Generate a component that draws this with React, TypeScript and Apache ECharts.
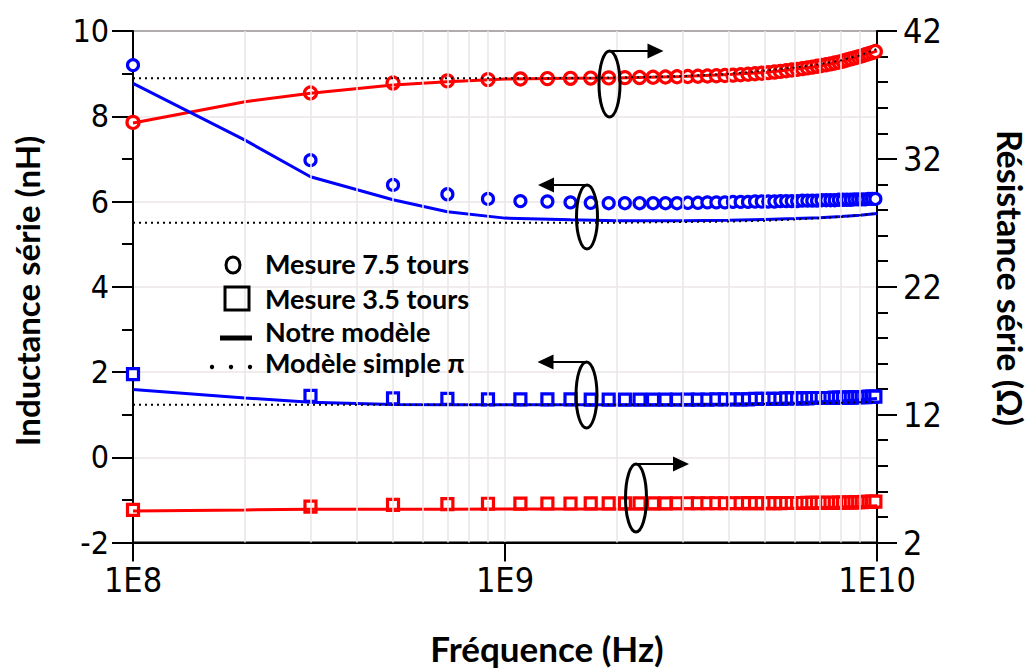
import React, { useEffect, useRef } from "react";
import * as echarts from "echarts";

// Measurement frequencies (GHz)
const freqGHz = [0.1, 0.3, 0.5, 0.7, 0.9, 1.1, 1.3, 1.5, 1.7, 1.9, 2.1, 2.3, 2.5, 2.7, 2.9, 3.1, 3.3, 3.5, 3.7, 3.9, 4.1, 4.3, 4.5, 4.7, 4.9, 5.1, 5.3, 5.5, 5.7, 5.9, 6.1, 6.3, 6.5, 6.7, 6.9, 7.1, 7.3, 7.5, 7.7, 7.9, 8.1, 8.3, 8.5, 8.7, 8.9, 9.1, 9.3, 9.5, 9.7, 9.9];

// Résistance série, 7.5 tours (Ω) - right axis
const res75 = [34.85, 37.15, 37.93, 38.1, 38.2, 38.25, 38.28, 38.3, 38.32, 38.33, 38.35, 38.36, 38.38, 38.4, 38.42, 38.44, 38.46, 38.48, 38.5, 38.52, 38.55, 38.58, 38.62, 38.66, 38.7, 38.74, 38.79, 38.84, 38.89, 38.95, 39.0, 39.06, 39.12, 39.18, 39.24, 39.3, 39.36, 39.43, 39.5, 39.57, 39.65, 39.73, 39.82, 39.9, 39.98, 40.06, 40.14, 40.22, 40.31, 40.4];
// Inductance série, 7.5 tours (nH) - left axis
const ind75 = [9.2, 6.97, 6.39, 6.17, 6.06, 6.01, 6.0, 5.98, 5.97, 5.96, 5.96, 5.96, 5.96, 5.96, 5.96, 5.97, 5.97, 5.98, 5.98, 5.98, 5.99, 5.99, 5.99, 6.0, 6.0, 6.0, 6.0, 6.01, 6.01, 6.01, 6.01, 6.02, 6.02, 6.02, 6.02, 6.03, 6.03, 6.03, 6.03, 6.04, 6.04, 6.04, 6.04, 6.05, 6.05, 6.05, 6.05, 6.06, 6.06, 6.06];
// Inductance série, 3.5 tours (nH) - left axis
const ind35 = [1.95, 1.44, 1.38, 1.37, 1.36, 1.36, 1.36, 1.36, 1.35, 1.35, 1.35, 1.35, 1.35, 1.35, 1.35, 1.35, 1.35, 1.35, 1.36, 1.36, 1.36, 1.36, 1.36, 1.37, 1.37, 1.37, 1.37, 1.37, 1.38, 1.38, 1.38, 1.38, 1.38, 1.39, 1.39, 1.39, 1.39, 1.39, 1.4, 1.4, 1.4, 1.4, 1.4, 1.41, 1.41, 1.41, 1.41, 1.42, 1.42, 1.42];
// Résistance série, 3.5 tours (Ω) - right axis
const res35 = [4.55, 4.81, 4.94, 5.0, 5.03, 5.04, 5.05, 5.05, 5.06, 5.06, 5.06, 5.06, 5.06, 5.06, 5.07, 5.07, 5.07, 5.07, 5.07, 5.07, 5.07, 5.07, 5.08, 5.08, 5.08, 5.08, 5.08, 5.08, 5.09, 5.09, 5.09, 5.09, 5.1, 5.1, 5.1, 5.1, 5.11, 5.11, 5.11, 5.12, 5.12, 5.13, 5.13, 5.14, 5.15, 5.16, 5.17, 5.18, 5.19, 5.2];

// Model frequencies (GHz)
const modelGHz = [0.1, 0.2, 0.3, 0.5, 0.7, 1, 1.5, 2, 3, 4, 5, 6, 7, 8, 9, 10];
const res75Model = [34.8, 36.47, 37.13, 37.78, 38.04, 38.25, 38.3, 38.33, 38.45, 38.6, 38.75, 39.0, 39.25, 39.6, 40.0, 40.45];
const res75Simple = [38.3, 38.3, 38.3, 38.3, 38.3, 38.3, 38.32, 38.35, 38.47, 38.65, 38.9, 39.15, 39.4, 39.7, 40.1, 40.6];
const ind75Model = [8.77, 7.44, 6.58, 6.04, 5.76, 5.61, 5.57, 5.55, 5.55, 5.56, 5.58, 5.6, 5.62, 5.65, 5.68, 5.72];
const ind75Simple = [5.5, 5.5, 5.5, 5.5, 5.5, 5.5, 5.5, 5.5, 5.52, 5.53, 5.55, 5.58, 5.61, 5.64, 5.68, 5.72];
const ind35Model = [1.59, 1.39, 1.29, 1.24, 1.23, 1.23, 1.23, 1.23, 1.24, 1.25, 1.26, 1.28, 1.3, 1.32, 1.35, 1.38];
const ind35Simple = [1.23, 1.23, 1.23, 1.23, 1.23, 1.23, 1.23, 1.23, 1.23, 1.24, 1.25, 1.26, 1.27, 1.28, 1.29, 1.3];
const res35Model = [4.47, 4.55, 4.6, 4.6, 4.6, 4.61, 4.62, 4.62, 4.63, 4.65, 4.67, 4.7, 4.73, 4.77, 4.82, 4.88];

// Axis ticks
const gridFreqs = [2e8, 3e8, 4e8, 5e8, 6e8, 7e8, 8e8, 9e8, 2e9, 3e9, 4e9, 5e9, 6e9, 7e9, 8e9, 9e9];
const rightMajor = [2, 12, 22, 32, 42];
const rightMinor = [4, 6, 8, 10, 14, 16, 18, 20, 24, 26, 28, 30, 34, 36, 38, 40];

const RED = "#ff0000";
const BLUE = "#0000ff";
const GRID = "#ebe6e8";
const TICKFONT = "'Liberation Sans Narrow', 'DejaVu Sans Condensed', 'DejaVu Sans', sans-serif";
const TITLEFONT = "Lato, 'Open Sans', 'Noto Sans', sans-serif";

const pts = (xs: number[], ys: number[]) => xs.map((x, i) => [x * 1e9, ys[i]]);

export default function App() {
  const ref = useRef<HTMLDivElement>(null);
  useEffect(() => {
    if (!ref.current) return;
    const chart = echarts.init(ref.current, null, { renderer: "svg" });
    const axisLine = { show: true, onZero: false, lineStyle: { color: "#000", width: 2 } };
    const tickStyle = { color: "#000", width: 2 };
    const scatter = (name: string, data: number[], yIdx: number, sym: string, color: string, size: number) => ({
      name,
      type: "scatter",
      yAxisIndex: yIdx,
      symbol: sym,
      symbolSize: size,
      itemStyle: { color: "#fff", borderColor: color, borderWidth: 3.2, opacity: 1 },
      data: pts(freqGHz, data),
      z: 3,
    });
    const line = (name: string, data: number[], yIdx: number, color: string) => ({
      name,
      type: "line",
      yAxisIndex: yIdx,
      symbol: "none",
      lineStyle: { color, width: 3 },
      data: pts(modelGHz, data),
      z: 4,
    });
    const dotted = (name: string, data: number[], yIdx: number) => ({
      name,
      type: "line",
      yAxisIndex: yIdx,
      symbol: "none",
      lineStyle: { color: "#000", width: 2, type: [2, 4] },
      data: pts(modelGHz, data),
      z: 5,
    });
    const legendText = (y: number, text: string) => ({
      type: "text",
      x: 265,
      y,
      z: 10,
      style: { text, fill: "#000", font: `bold 27px ${TITLEFONT}`, verticalAlign: "middle", align: "left" },
    });
    const arrow = (cx: number, cy: number, ry: number, dir: number, len: number) => [
      { type: "ellipse", z: 10, shape: { cx, cy, rx: 10.5, ry }, style: { fill: "none", stroke: "#000", lineWidth: 3 } },
      { type: "line", z: 10, shape: { x1: cx, y1: cy - ry, x2: cx + dir * (len - 14), y2: cy - ry }, style: { stroke: "#000", lineWidth: 2 } },
      {
        type: "polygon",
        z: 10,
        shape: {
          points: [
            [cx + dir * len, cy - ry],
            [cx + dir * (len - 16), cy - ry - 7.5],
            [cx + dir * (len - 16), cy - ry + 7.5],
          ],
        },
        style: { fill: "#000" },
      },
    ];
    const option: any = {
      animation: false,
      backgroundColor: "#fff",
      grid: { left: 133, right: 154, top: 31, bottom: 125.5, show: true, borderColor: "#000", borderWidth: 2, backgroundColor: "transparent" },
      xAxis: {
        type: "log",
        logBase: 10,
        min: 1e8,
        max: 1e10,
        axisLine,
        axisTick: { show: true, length: 19, lineStyle: tickStyle },
        axisLabel: {
          formatter: (v: number) => "1E" + Math.round(Math.log10(v)),
          fontFamily: TICKFONT,
          fontSize: 34,
          color: "#000",
          margin: 20,
        },
        splitLine: { show: true, lineStyle: { color: GRID, width: 1.5 } },
      },
      yAxis: [
        {
          type: "value",
          position: "left",
          min: -2,
          max: 10,
          interval: 2,
          axisLine,
          axisTick: { show: true, length: 21, lineStyle: tickStyle },
          minorTick: { show: true, splitNumber: 2, length: 11, lineStyle: tickStyle },
          axisLabel: { fontFamily: TICKFONT, fontSize: 32, color: "#000", margin: 24, padding: [0, 0, 11, 0] },
          splitLine: { show: true, lineStyle: { color: GRID, width: 1.5 } },
        },
        {
          type: "value",
          position: "right",
          min: 2,
          max: 42,
          axisLine,
          axisTick: { show: true, length: 20, lineStyle: tickStyle, customValues: rightMajor },
          axisLabel: { fontFamily: TICKFONT, fontSize: 34, color: "#000", margin: 26, padding: [0, 0, 12, 0], customValues: rightMajor },
          splitLine: { show: false },
        },
        {
          type: "value",
          position: "right",
          min: 2,
          max: 42,
          axisLine: { show: false },
          axisTick: { show: true, length: 11, lineStyle: tickStyle, customValues: rightMinor },
          axisLabel: { show: false },
          splitLine: { show: false },
        },
      ],
      series: [
        {
          name: "grid",
          type: "line",
          data: [],
          silent: true,
          markLine: {
            silent: true,
            symbol: "none",
            label: { show: false },
            lineStyle: { color: GRID, width: 1.5, type: "solid" },
            data: gridFreqs.map((f) => ({ xAxis: f })),
          },
          z: 1,
        },
        scatter("R mesure 7.5", res75, 1, "circle", RED, 12),
        scatter("L mesure 7.5", ind75, 0, "circle", BLUE, 11),
        scatter("L mesure 3.5", ind35, 0, "rect", BLUE, 11),
        scatter("R mesure 3.5", res35, 1, "rect", RED, 11),
        line("R modele 7.5", res75Model, 1, RED),
        line("L modele 7.5", ind75Model, 0, BLUE),
        line("L modele 3.5", ind35Model, 0, BLUE),
        line("R modele 3.5", res35Model, 1, RED),
        dotted("R simple 7.5", res75Simple, 1),
        dotted("L simple 7.5", ind75Simple, 0),
        dotted("L simple 3.5", ind35Simple, 0),
      ],
      graphic: [
        { type: "ellipse", z: 10, shape: { cx: 233, cy: 265, rx: 7, ry: 8 }, style: { fill: "none", stroke: "#000", lineWidth: 3 } },
        { type: "rect", z: 10, shape: { x: 225, y: 287, width: 24, height: 23 }, style: { fill: "none", stroke: "#000", lineWidth: 3 } },
        { type: "rect", z: 10, shape: { x: 220, y: 335.5, width: 32, height: 5 }, style: { fill: "#000" } },
        { type: "circle", z: 10, shape: { cx: 212, cy: 367, r: 2.2 }, style: { fill: "#000" } },
        { type: "circle", z: 10, shape: { cx: 231, cy: 367, r: 2.2 }, style: { fill: "#000" } },
        { type: "circle", z: 10, shape: { cx: 250, cy: 367, r: 2.2 }, style: { fill: "#000" } },
        legendText(263, "Mesure 7.5 tours"),
        legendText(298, "Mesure 3.5 tours"),
        legendText(331, "Notre modèle"),
        legendText(362, "Modèle simple π"),
        ...arrow(609.5, 84, 33, 1, 54),
        ...arrow(587, 217, 32, -1, 49),
        ...arrow(586.5, 395, 33, -1, 49),
        ...arrow(636, 498, 34, 1, 53),
        {
          type: "text",
          x: 27,
          y: 291,
          rotation: Math.PI / 2,
          style: { text: "Inductance série (nH)", fill: "#000", font: `bold 33px ${TITLEFONT}`, align: "center", verticalAlign: "middle" },
        },
        {
          type: "text",
          x: 1010,
          y: 278,
          rotation: -Math.PI / 2,
          style: { text: "Résistance série (Ω)", fill: "#000", font: `bold 34px ${TITLEFONT}`, align: "center", verticalAlign: "middle" },
        },
        {
          type: "text",
          x: 547,
          y: 648,
          style: { text: "Fréquence (Hz)", fill: "#000", font: `bold 35px ${TITLEFONT}`, align: "center", verticalAlign: "middle" },
        },
      ],
    };
    chart.setOption(option);
    return () => chart.dispose();
  }, []);
  return <div ref={ref} style={{ position: "fixed", left: 0, top: 0, width: 1031, height: 668, background: "#fff" }} />;
}
